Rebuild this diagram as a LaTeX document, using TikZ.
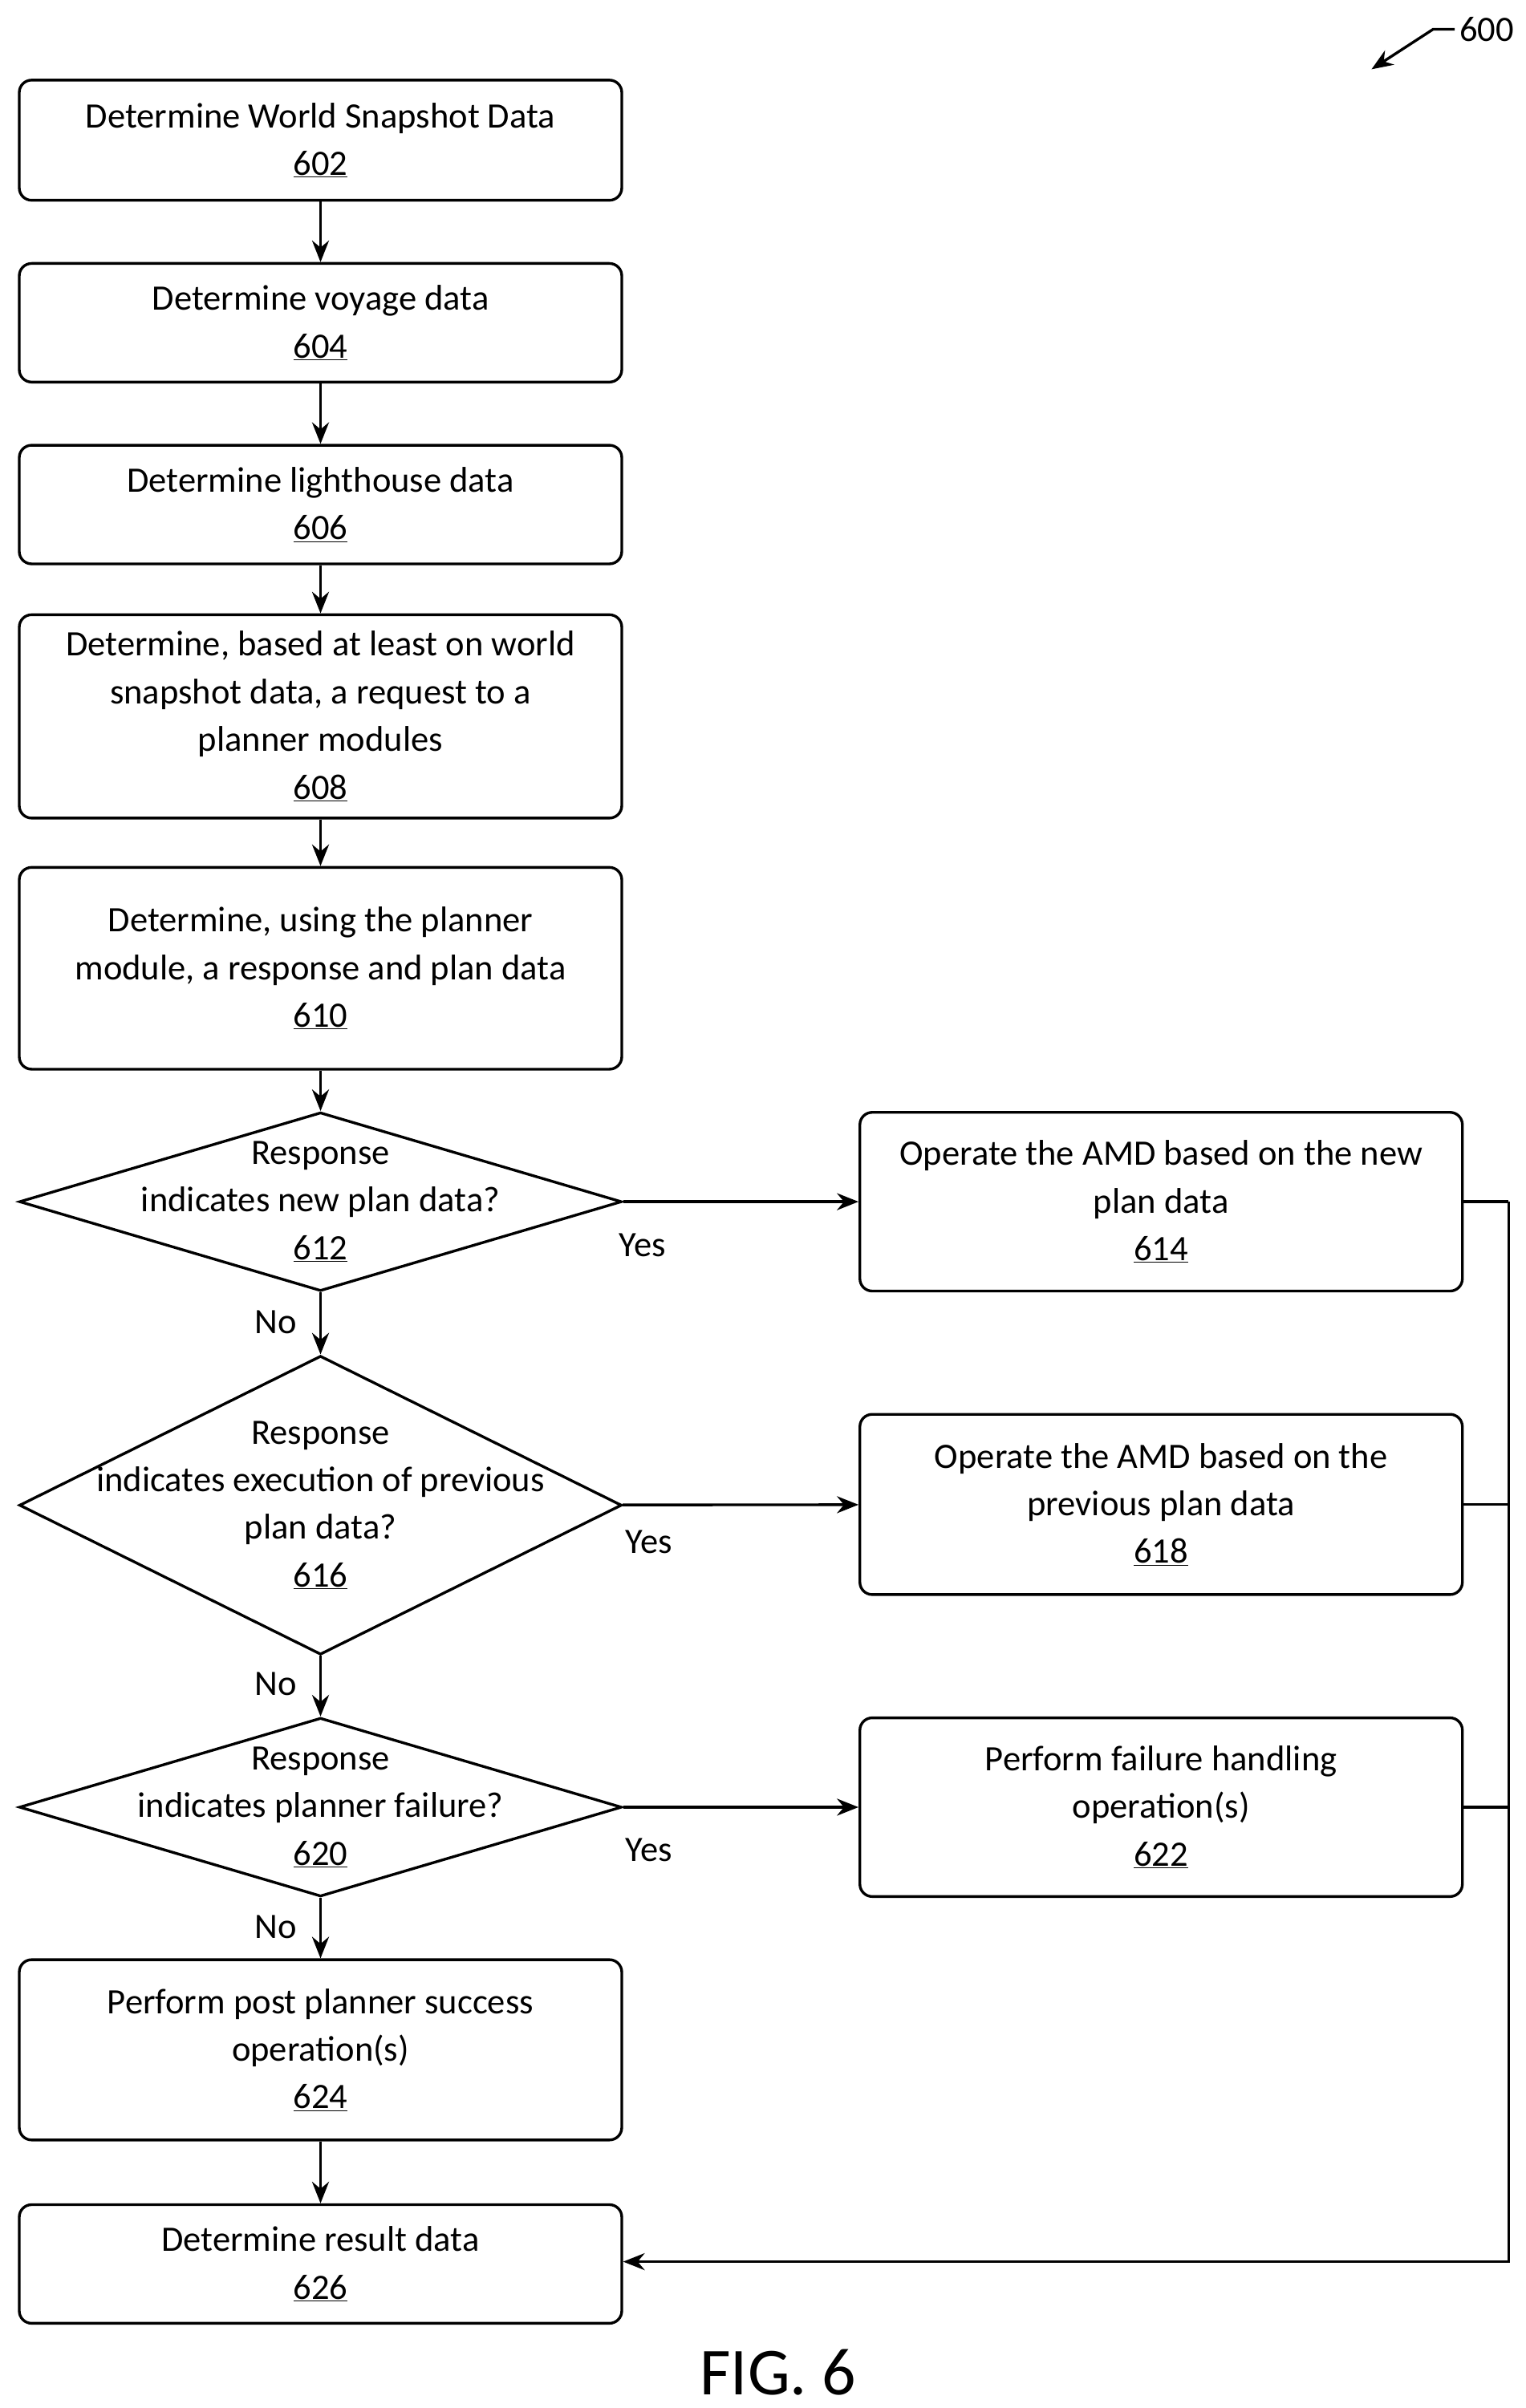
\documentclass[tikz,border=0pt]{standalone}
\usepackage{fontspec}
\setmainfont{Carlito}
\usetikzlibrary{shapes.geometric,arrows.meta}
\begin{document}
\begin{tikzpicture}[x=0.05cm,y=-0.05cm,
  every node/.style={font=\fontsize{33}{44}\selectfont\scshape, align=center, line width=2.5pt},
  box/.style={draw, rounded corners=0.4cm, minimum width=19.55cm, inner sep=0pt},
  dia/.style={draw, diamond, minimum width=19.55cm, inner sep=0pt},
  arr/.style={line width=2.5pt, -{Stealth[length=0.7cm,width=0.55cm]}},
  ln/.style={line width=2.5pt},
  lbl/.style={font=\fontsize{33}{44}\selectfont\scshape}]
\useasboundingbox (0,0) rectangle (990,1563);
\node[box, minimum height=3.9cm] (b602) at (208,91) {Determine World Snapshot Data\\\underline{602}};
\node[box, minimum height=3.85cm] (b604) at (208,209.5) {Determine voyage data\\\underline{604}};
\node[box, minimum height=3.85cm] (b606) at (208,327.5) {Determine lighthouse data\\\underline{606}};
\node[box, minimum height=6.6cm] (b608) at (208,465) {Determine, based at least on world\\snapshot data, a request to a\\planner modules\\\underline{608}};
\node[box, minimum height=6.55cm] (b610) at (208,628.5) {Determine, using the planner\\module, a response and plan data\\\underline{610}};
\node[dia, minimum height=5.8cm] (d612) at (208,780) {};
\node at (208,780) {Response\\indicates new plan data?\\\underline{612}};
\node[dia, minimum height=9.7cm] (d616) at (208,977) {};
\node at (208,977) {Response\\indicates execution of previous\\plan data?\\\underline{616}};
\node[dia, minimum height=5.8cm] (d620) at (208,1173) {};
\node at (208,1173) {Response\\indicates planner failure?\\\underline{620}};
\node[box, minimum height=5.85cm] (b624) at (208,1330.5) {Perform post planner success\\operation(s)\\\underline{624}};
\node[box, minimum height=3.85cm] (b626) at (208,1469.5) {Determine result data\\\underline{626}};
\node[box, minimum height=5.8cm] (b614) at (753.5,780) {Operate the AMD based on the new\\plan data\\\underline{614}};
\node[box, minimum height=5.85cm] (b618) at (753.5,976.5) {Operate the AMD based on the\\previous plan data\\\underline{618}};
\node[box, minimum height=5.8cm] (b622) at (753.5,1173) {Perform failure handling\\operation(s)\\\underline{622}};
\draw[arr] (b602) -- (b604);
\draw[arr] (b604) -- (b606);
\draw[arr] (b606) -- (b608);
\draw[arr] (b608) -- (b610);
\draw[arr] (b610) -- (d612);
\draw[arr] (d612) -- (d616);
\draw[arr] (d616) -- (d620);
\draw[arr] (d620) -- (b624);
\draw[arr] (b624) -- (b626);
\draw[arr] (d612) -- (b614);
\draw[arr] (d616) -- (b618);
\draw[arr] (d620) -- (b622);
\coordinate (r1) at (979,780);
\coordinate (r2) at (979,976.5);
\coordinate (r3) at (979,1173);
\coordinate (r4) at (979,1468);
\draw[ln] (b614.east) -- (r1);
\draw[ln] (b618.east) -- (r2);
\draw[ln] (b622.east) -- (r3);
\draw[arr] (r1) -- (r4) -- (b626.east |- r4);
\node[lbl] (y1) at (417,808) {Yes};
\node[lbl] (y2) at (421,1001) {Yes};
\node[lbl] (y3) at (421,1201) {Yes};
\node[lbl] (n1) at (179,858) {No};
\node[lbl] (n2) at (179,1093) {No};
\node[lbl] (n3) at (179,1251) {No};
\node[font=\fontsize{33}{40}\selectfont, anchor=west] (l600) at (944,19) {600};
\coordinate (a600) at (890,45);
\draw[arr] (l600.west) -- (930,19) -- (a600);
\node[font=\fontsize{62}{70}\selectfont] (fig) at (505,1540) {FIG. 6};
\end{tikzpicture}
\end{document}
